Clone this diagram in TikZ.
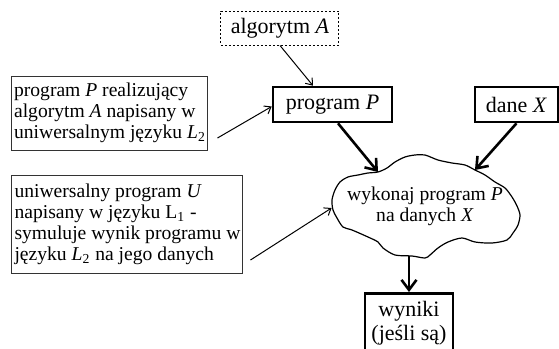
\documentclass[tikz,border=0pt]{standalone}
\usepackage{fontspec}
\setmainfont{Liberation Serif}
\usetikzlibrary{arrows.meta}
\begin{document}
\begin{tikzpicture}[x=0.5pt,y=-0.5pt,
    note/.style={draw=black!80, line width=0.5pt, align=left, inner xsep=1pt, inner ysep=2pt,
      font=\fontsize{9.8}{10.5}\selectfont},
    thickbox/.style={draw, line width=1.3pt, align=center, inner sep=0pt, font=\fontsize{11}{12}\selectfont},
    thin arrow/.style={-{Straight Barb[length=3pt,width=4.5pt]}, line width=0.5pt},
    bold arrow/.style={-{Straight Barb[length=5pt,width=7.5pt]}, line width=1.3pt}]
  \useasboundingbox (0,0) rectangle (559,349);
  % Boxes
  \node[draw, dash pattern=on 1pt off 1pt, line width=0.5pt, minimum width=59pt, minimum height=17pt,
        inner sep=0pt, font=\fontsize{11}{12}\selectfont]
    (alg) at (280,28) {algorytm \textit{A}};
  \node[thickbox, minimum width=59.5pt, minimum height=17.5pt] (prog) at (332.5,104.5) {program \textit{P}};
  \node[thickbox, minimum width=41.5pt, minimum height=17.5pt] (dane) at (516.5,104.5) {dane \textit{X}};
  \node[note, minimum width=98pt, minimum height=37pt] (opis1) at (110,113)
    {program \textit{P} realizujący\\algorytm \textit{A} napisany w\\uniwersalnym języku \textit{L}\textsubscript{2}};
  \node[note, minimum width=115.5pt, minimum height=49pt] (opis2) at (127.5,224)
    {uniwersalny program \textit{U}\\napisany w języku L\textsubscript{1} -\\symuluje wynik programu w\\języku \textit{L}\textsubscript{2} na jego danych};
  \node[minimum width=95pt, minimum height=50pt, inner sep=0pt, align=center,
        font=\fontsize{9.8}{10.5}\selectfont]
    (cloud) at (425,206) {wykonaj program \textit{P}\\na danych \textit{X}};
  \node[thickbox, minimum width=44pt, minimum height=30pt, anchor=north]
    (wyn) at (409,292) {wyniki\\(jeśli są)};
  % Cloud outline
  \draw[line width=0.6pt] plot[smooth cycle, tension=0.5] coordinates {
    (332,200) (335,190) (340,182) (348,177) (358,175) (368,173) (378,172)
    (387,168) (395,162) (405,157) (415,155) (425,155) (438,160) (452,163)
    (465,165) (475,170) (485,175) (495,182) (505,188) (512,197) (517,206)
    (520,215) (518,225) (513,233) (507,240) (492,243) (475,242) (462,238)
    (448,242) (438,248) (430,255) (425,258) (412,256) (395,255) (383,248)
    (378,242) (368,237) (352,230) (343,227) (337,218) (333,210)};
  % Arrows
  \draw[thin arrow] (alg.south) -- ([xshift=-9.75pt]prog.north);
  \draw[thin arrow] ([xshift=4.5pt,yshift=-12.5pt]opis1.east) -- ([yshift=-1pt]prog.west);
  \draw[thin arrow] ([xshift=3.5pt,yshift=-18pt]opis2.east) -- ([xshift=1pt,yshift=-1pt]cloud.west);
  \draw[bold arrow] ([xshift=2.75pt]prog.south) -- ([xshift=-23.5pt,yshift=17pt]cloud.center);
  \draw[bold arrow] (dane.south) -- ([xshift=25pt,yshift=18pt]cloud.center);
  \draw[bold arrow] (wyn.north |- cloud.south) -- (wyn.north);
\end{tikzpicture}
\end{document}
